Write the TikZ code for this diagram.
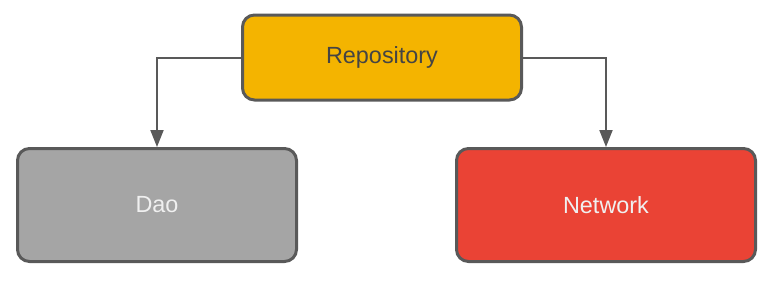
\documentclass[tikz,border=0pt]{standalone}
\usepackage{fontspec}
\setmainfont{Liberation Sans}
\usepackage{xcolor}
\usetikzlibrary{arrows.meta,positioning}
\definecolor{gEdge}{RGB}{89,89,89}
\definecolor{gYellow}{RGB}{244,180,0}
\definecolor{gGrey}{RGB}{165,165,165}
\definecolor{gRed}{RGB}{234,67,53}
\definecolor{gInk}{RGB}{68,68,68}
\definecolor{gLight}{RGB}{240,240,240}
\tikzset{
block/.style={rectangle,rounded corners=6pt,draw=gEdge,line width=1.5pt,minimum width=139.5pt,minimum height=42.5pt,align=center,font=\fontsize{11.7}{14}\selectfont},
repobox/.style={block,fill=gYellow,text=gInk},
daobox/.style={block,fill=gGrey,text=gLight,minimum height=56.5pt},
netbox/.style={block,fill=gRed,text=gLight,minimum width=149.5pt,minimum height=56.5pt},
arrow/.style={-{Triangle[length=8.5pt,width=6.5pt]},line width=1pt,draw=gEdge}
}
\begin{document}
\begin{tikzpicture}[x=0.5pt,y=-0.5pt]
\useasboundingbox (0,0) rectangle (772,281);
\node[repobox] (repo) at (382,57.5) {Repository};
\node[daobox] (dao) at (157,205) {Dao};
\node[netbox] (net) at (606,205) {Network};
\draw[arrow] (repo.west) -| (dao.north);
\draw[arrow] (repo.east) -| (net.north);
\end{tikzpicture}
\end{document}
